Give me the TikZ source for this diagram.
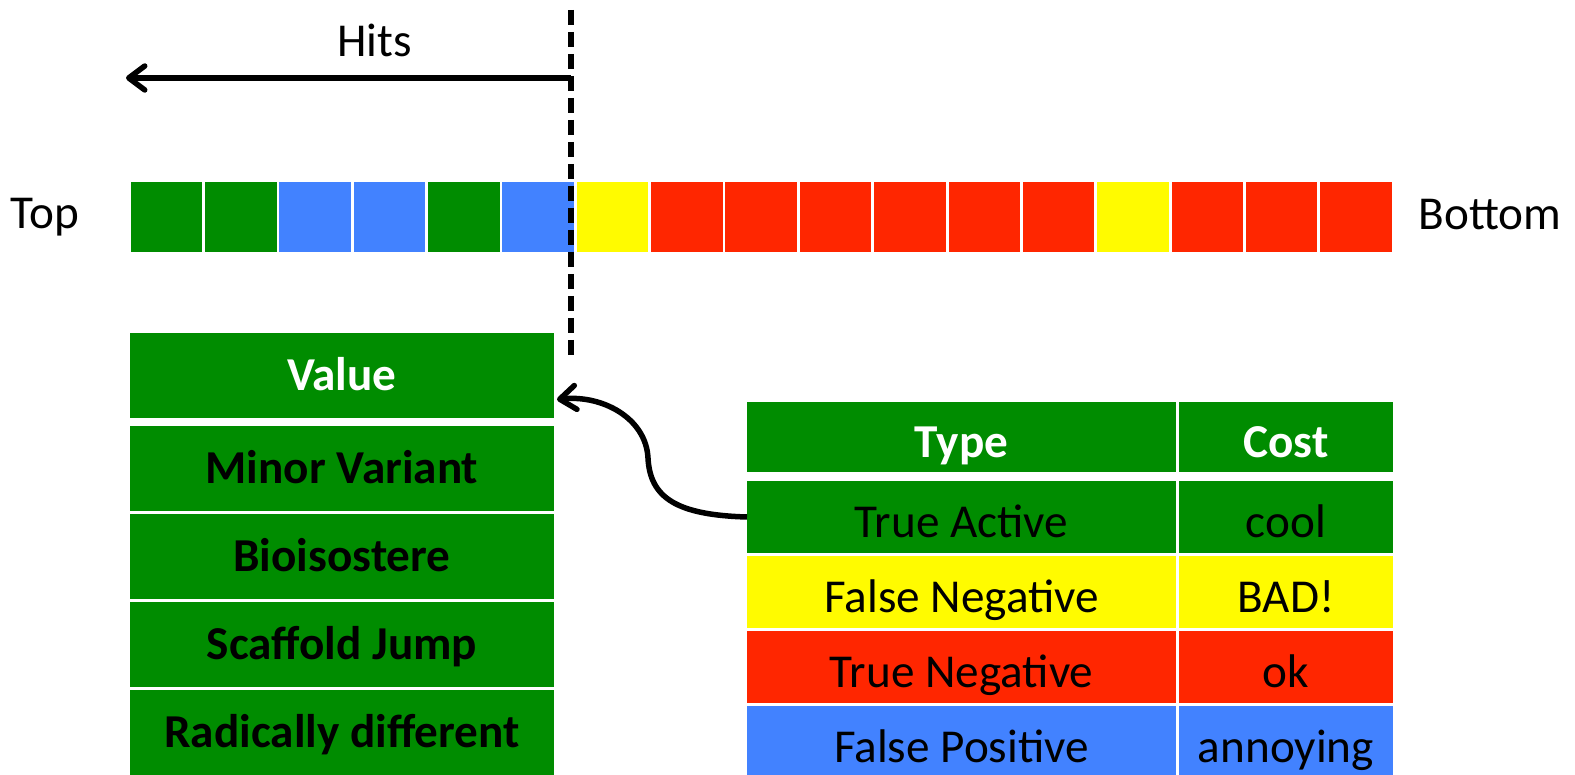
\documentclass[tikz,border=0pt]{standalone}
\usepackage{fontspec}
\setmainfont{Carlito}
\usetikzlibrary{arrows.meta}
\definecolor{hitgreen}{RGB}{0,140,0}
\definecolor{hitblue}{RGB}{66,130,255}
\definecolor{hitred}{RGB}{255,38,0}
\definecolor{hityellow}{RGB}{255,251,0}
\begin{document}
\begin{tikzpicture}[x=0.5pt,y=-0.5pt,
  every node/.style={font=\fontsize{23.6}{28}\selectfont,inner sep=0pt,outer sep=0pt},
  cell/.style={minimum width=35.75pt,minimum height=35pt},
  vrow/.style={fill=hitgreen,anchor=north west,minimum width=212pt,minimum height=42.5pt,
    text height=15pt,text depth=0pt,font=\fontsize{23.6}{28}\selectfont\bfseries},
  trow/.style={anchor=north west,minimum height=36pt,text height=20pt,text depth=0pt},
  thick line/.style={line width=2.75pt},
  hitarrow/.style={-{Straight Barb[length=8pt,width=12pt,round]}}]
\useasboundingbox (0,0) rectangle (1575,775);
% ranked list
\foreach \clr [count=\i] in {hitgreen,hitgreen,hitblue,hitblue,hitgreen,hitblue,hityellow,
  hitred,hitred,hitred,hitred,hitred,hitred,hityellow,hitred,hitred,hitred}
  \node[cell,fill=\clr] (c\i) at ({166.4+(\i-1)*74.35},217) {};
\node[anchor=base] (top) at (45,229) {Top};
\node[anchor=base] (bottom) at (1490,230) {Bottom};
% cutoff
\coordinate (cuttop) at (571,10);
\coordinate (cutbot) at (571,358);
\draw[line width=3pt,dash pattern=on 7.5pt off 3.5pt] (cuttop) -- (cutbot);
\coordinate (hitstart) at (571,78);
\coordinate (hitend) at (126,78);
\draw[thick line,hitarrow] (hitstart) -- (hitend);
\node[anchor=base] (hits) at (374.5,57) {Hits};
% value table
\node[vrow,text=white] (v1) at (130,333) {Value};
\foreach \txt/\ytop [count=\i from 2] in {Minor Variant/426,Bioisostere/514,Scaffold Jump/602,Radically different/690}
  \node[vrow] (v\i) at (130,\ytop) {\txt};
% type/cost table
\node[trow,fill=hitgreen,text=white,minimum height=35pt,minimum width=214.5pt,font=\fontsize{23.6}{28}\selectfont\bfseries] (typehead) at (747,402) {Type};
\node[trow,fill=hitgreen,text=white,minimum height=35pt,minimum width=107pt,font=\fontsize{23.6}{28}\selectfont\bfseries] (costhead) at (1179,402) {Cost};
\foreach \typ/\cst/\clr [count=\i] in {True Active/cool/hitgreen,False Negative/BAD!/hityellow,
  True Negative/ok/hitred,False Positive/annoying/hitblue} {
  \node[trow,fill=\clr,minimum width=214.5pt] (t\i) at (747,{481+(\i-1)*75}) {\typ};
  \node[trow,fill=\clr,minimum width=107pt] (k\i) at (1179,{481+(\i-1)*75}) {\cst};
}
% true actives give the value
\coordinate (bend) at (648,458);
\coordinate (valin) at ([xshift=1.5pt,yshift=-12pt]v1.east);
\draw[thick line,hitarrow] (t1.west) .. controls +(-70,-2) and +(2,40) .. (bend)
  .. controls +(-2,-40) and +(45,-5) .. (valin);
\end{tikzpicture}
\end{document}
